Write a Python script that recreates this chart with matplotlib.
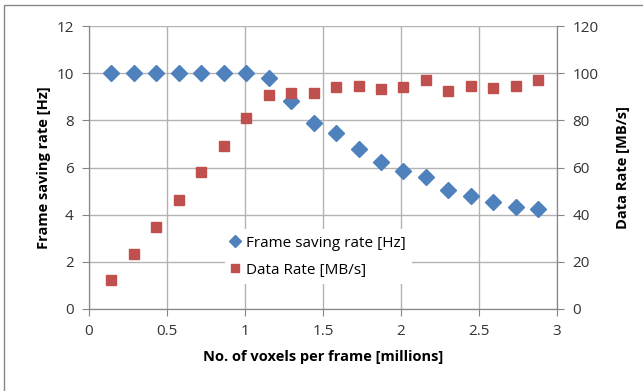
import matplotlib.pyplot as plt
from matplotlib.patches import Rectangle

# voxels per frame [millions]
voxels = [0.144, 0.288, 0.432, 0.576, 0.72, 0.864, 1.008, 1.152, 1.296, 1.44,
          1.584, 1.728, 1.872, 2.016, 2.16, 2.304, 2.448, 2.592, 2.736, 2.88]
frame_rate = [10, 10, 10, 10, 10, 10, 10, 9.8, 8.8, 7.9,
              7.45, 6.8, 6.25, 5.85, 5.6, 5.05, 4.8, 4.53, 4.32, 4.24]
data_rate = [12.2, 23.3, 34.7, 46.2, 58, 69.3, 81, 90.7, 91.4, 91.4,
             94, 94.4, 93.2, 94, 97, 92.4, 94.4, 93.5, 94.4, 97]

blue = '#4f81bd'
red = '#c0504d'
grid_c = '#b3b3b3'
axis_c = '#868686'

plt.rcParams['font.family'] = ['Open Sans', 'DejaVu Sans']

fig = plt.figure(figsize=(6.43, 3.91), dpi=100)
fig.patches.append(Rectangle((4 / 643, -0.1), 1.2, 1 - 5 / 391 + 0.1,
                             transform=fig.transFigure, fill=False,
                             edgecolor='#868686', linewidth=1.0))
ax1 = fig.add_axes([89 / 643, 1 - 309 / 391, 468 / 643, 283 / 391])
ax2 = ax1.twinx()

l1, = ax1.plot(voxels, frame_rate, linestyle='none', marker='D', markersize=8,
               color=blue, label='Frame saving rate [Hz]')
l2, = ax2.plot(voxels, data_rate, linestyle='none', marker='s', markersize=7.5,
               color=red, label='Data Rate [MB/s]')

ax1.set_xlim(0, 3)
ax1.set_ylim(0, 12)
ax2.set_ylim(0, 120)
ax1.set_xticks([0, 0.5, 1, 1.5, 2, 2.5, 3])
ax1.set_xticklabels(['0', '0.5', '1', '1.5', '2', '2.5', '3'])
ax1.set_yticks(range(0, 13, 2))
ax2.set_yticks(range(0, 121, 20))

ax1.grid(True, color=grid_c, linewidth=1.0)
ax1.set_axisbelow(True)

for ax in (ax1, ax2):
    for s in ax.spines.values():
        s.set_color(axis_c)
    ax.spines['top'].set_visible(False)
    ax.tick_params(colors=axis_c, labelcolor='#333333', labelsize=11,
                   length=5, direction='out', pad=6)

ax1.set_xlabel('No. of voxels per frame [millions]', fontsize=10.5,
               fontweight='bold', labelpad=8)
ax1.set_ylabel('Frame saving rate [Hz]', fontsize=10.5, fontweight='bold',
               labelpad=4)
ax2.set_ylabel('Data Rate [MB/s]', fontsize=10.5, fontweight='bold',
               rotation=90, labelpad=13)

leg = ax2.legend(handles=[l1, l2], loc='center', bbox_to_anchor=(0.49, 0.185),
                 frameon=True, fontsize=11, handlelength=0.6, handletextpad=0.4,
                 labelspacing=0.8, markerscale=0.8, borderpad=0.4)
leg.get_frame().set_edgecolor('none')
leg.get_frame().set_facecolor('white')
leg.get_frame().set_alpha(1)

fig.savefig('out.png', dpi=100)
